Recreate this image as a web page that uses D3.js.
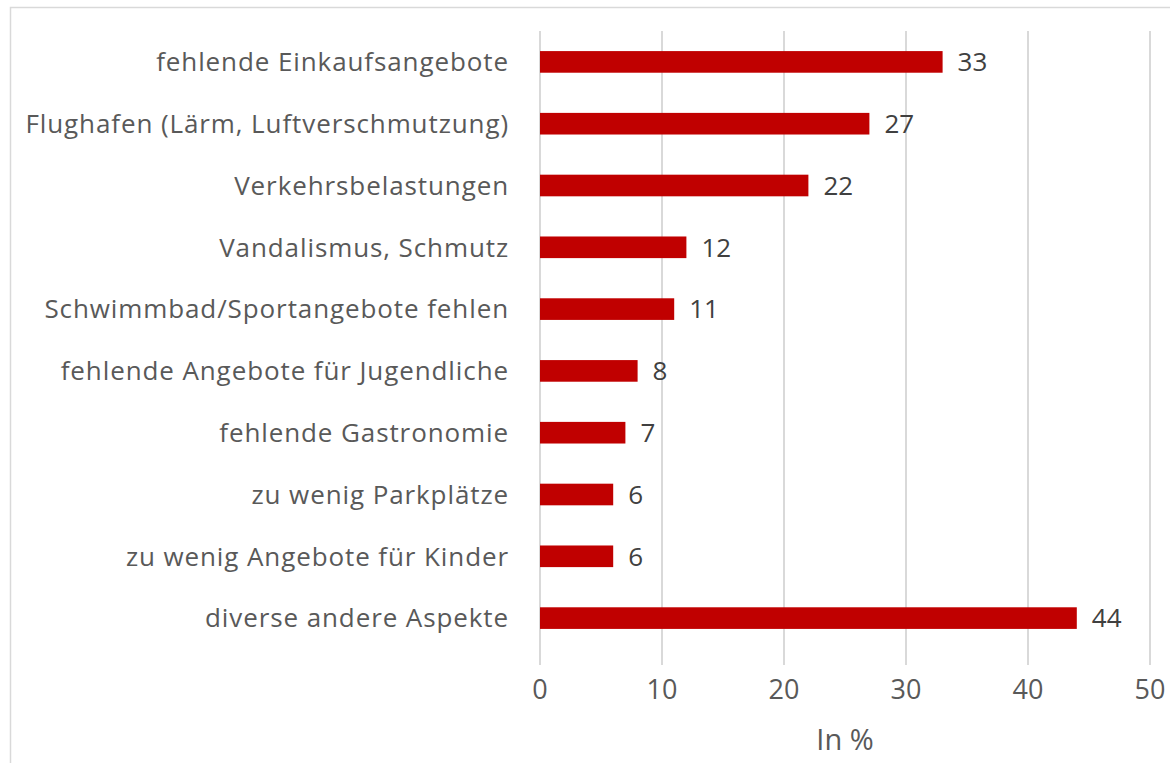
<!DOCTYPE html>
<html><head><meta charset="utf-8">
<script src="https://cdn.jsdelivr.net/npm/d3@7"></script>
<style>body{margin:0;background:#fff;}svg{display:block;}</style>
</head><body>
<svg id="c" width="1170" height="763"></svg>
<script>
const categories = ["fehlende Einkaufsangebote","Flughafen (Lärm, Luftverschmutzung)","Verkehrsbelastungen","Vandalismus, Schmutz","Schwimmbad/Sportangebote fehlen","fehlende Angebote für Jugendliche","fehlende Gastronomie","zu wenig Parkplätze","zu wenig Angebote für Kinder","diverse andere Aspekte"];
const values = [33,27,22,12,11,8,7,6,6,44];
const ticks = [0,10,20,30,40,50];
const axisTitle = "In %";

const svg = d3.select("#c");
const font = "'Open Sans', sans-serif";
// frame
svg.append("rect").attr("x",10.5).attr("y",7.5).attr("width",1200).attr("height",800)
  .attr("fill","none").attr("stroke","#d9d9d9").attr("stroke-width",1.5);

const x = d3.scaleLinear().domain([0,50]).range([540,1150]);
const y = d3.scaleBand().domain(categories).range([31,649]).paddingInner(0.65).paddingOuter(0.325);

svg.append("g").selectAll("line").data(ticks).join("line")
  .attr("x1",d=>x(d)).attr("x2",d=>x(d)).attr("y1",31).attr("y2",665)
  .attr("stroke","#d9d9d9").attr("stroke-width",2);

svg.append("g").selectAll("rect").data(values).join("rect")
  .attr("x",x(0)).attr("y",(d,i)=>y(categories[i]))
  .attr("width",d=>x(d)-x(0)).attr("height",y.bandwidth()).attr("fill","#c00000");

svg.append("g").selectAll("text").data(values).join("text")
  .attr("x",d=>x(d)+15).attr("y",(d,i)=>y(categories[i])+y.bandwidth()/2)
  .attr("dy","0.36em").attr("font-family",font).attr("font-size",26).attr("fill","#404040")
  .text(d=>d);

svg.append("g").selectAll("text").data(categories).join("text")
  .attr("x",509).attr("y",d=>y(d)+y.bandwidth()/2).attr("dy","0.36em")
  .attr("text-anchor","end").attr("font-family",font).attr("font-size",26)
  .attr("letter-spacing","0.9px").attr("fill","#595959")
  .text(d=>d);

svg.append("g").selectAll("text").data(ticks).join("text")
  .attr("x",d=>x(d)).attr("y",689).attr("dy","0.36em").attr("text-anchor","middle")
  .attr("font-family",font).attr("font-size",27).attr("fill","#595959").text(d=>d);

svg.append("text").attr("x",845).attr("y",740).attr("dy","0.36em").attr("text-anchor","middle")
  .attr("font-family",font).attr("font-size",29).attr("fill","#595959").text(axisTitle);
</script>
</body></html>
